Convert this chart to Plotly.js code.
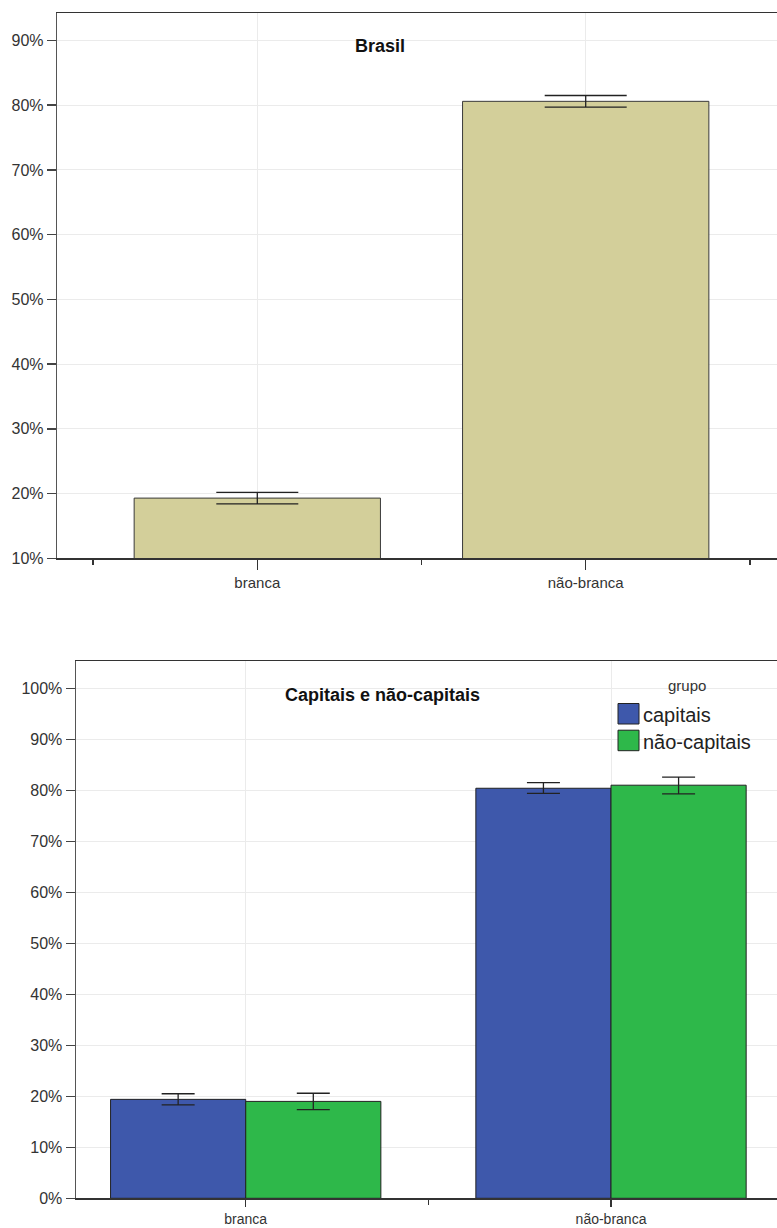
<!DOCTYPE html>
<html>
<head>
<meta charset="utf-8">
<script src="https://cdn.plot.ly/plotly-3.0.1.min.js"></script>
<style>html,body{margin:0;padding:0;background:#fff;}</style>
</head>
<body>
<div id="chart" style="width:777px;height:1228px;"></div>
<script>
// ---- data ----
const categories = ["branca", "não-branca"];
const catPos = [0, 1];

const brasilTitle = "Brasil";
const brasilValues = [19.3, 80.6];
const brasilErr = [0.9, 0.9];

const groupTitle = "Capitais e não-capitais";
const legendTitle = "grupo";
const groupNames = ["capitais", "não-capitais"];
const capitaisValues = [19.4, 80.4];
const capitaisErrPlus = [1.1, 1.1];
const capitaisErrMinus = [1.1, 1.0];
const naoCapitaisValues = [19.0, 81.0];
const naoCapitaisErrPlus = [1.6, 1.6];
const naoCapitaisErrMinus = [1.6, 1.7];

const topTicks = [10, 20, 30, 40, 50, 60, 70, 80, 90];
const bottomTicks = [0, 10, 20, 30, 40, 50, 60, 70, 80, 90, 100];
const tickText = v => v + "%";

// ---- styling ----
const FONT = "Liberation Sans, Arial, sans-serif";
const H = 1228, W = 777;
const py = p => 1 - p / H;
const px = p => p / W;

const colors = {brasil: "#d3cf9a", capitais: "#3e58ab", naoCapitais: "#2eb84a"};

const traces = [
  {
    type: "bar", x: catPos, y: brasilValues, width: 0.75,
    xaxis: "x", yaxis: "y",
    marker: {color: colors.brasil, line: {color: "#3a3a3a", width: 1}},
    error_y: {type: "data", array: brasilErr, color: "#222", thickness: 1.3, width: 41},
    showlegend: false, hoverinfo: "skip"
  },
  {
    type: "bar", name: groupNames[0], x: catPos, y: capitaisValues,
    xaxis: "x2", yaxis: "y2",
    marker: {color: colors.capitais, line: {color: "#222", width: 1}},
    error_y: {type: "data", symmetric: false, array: capitaisErrPlus, arrayminus: capitaisErrMinus, color: "#222", thickness: 1.3, width: 16.5},
    showlegend: false, hoverinfo: "skip"
  },
  {
    type: "bar", name: groupNames[1], x: catPos, y: naoCapitaisValues,
    xaxis: "x2", yaxis: "y2",
    marker: {color: colors.naoCapitais, line: {color: "#222", width: 1}},
    error_y: {type: "data", symmetric: false, array: naoCapitaisErrPlus, arrayminus: naoCapitaisErrMinus, color: "#222", thickness: 1.3, width: 16.5},
    showlegend: false, hoverinfo: "skip"
  }
];

function xAxis(domain, range, anchor, ticklen, fontSize) {
  return {
    domain: domain, range: range, anchor: anchor,
    tickmode: "array", tickvals: catPos, ticktext: categories,
    ticks: "outside", ticklen: ticklen, tickwidth: 1.3, tickcolor: "#333",
    minor: {tickmode: "array", tickvals: [-0.5, 0.5, 1.5], ticks: "outside", ticklen: 5, tickwidth: 1.3, tickcolor: "#333", showgrid: false},
    showline: true, linecolor: "#333", linewidth: 1.5, mirror: true,
    showgrid: true, gridcolor: "#ebebeb", gridwidth: 1,
    zeroline: false, automargin: false, fixedrange: true,
    tickfont: {family: FONT, size: fontSize, color: "#333"}
  };
}
function yAxis(domain, range, ticks, anchor) {
  return {
    domain: domain, range: range, anchor: anchor,
    tickmode: "array", tickvals: ticks, ticktext: ticks.map(tickText),
    ticks: "outside", ticklen: 9, tickwidth: 1.5, tickcolor: "#444",
    showline: true, linecolor: "#555", linewidth: 1.5,
    showgrid: true, gridcolor: "#ebebeb", gridwidth: 1,
    zeroline: false, automargin: false, fixedrange: true,
    tickfont: {family: FONT, size: 16, color: "#333"}
  };
}

const legendShapes = [];
const legendAnnots = [];
const legendColors = [colors.capitais, colors.naoCapitais];
groupNames.forEach((name, i) => {
  const top = 703.5 + i * 26.7;
  legendShapes.push({
    type: "rect", xref: "paper", yref: "paper",
    x0: px(618), x1: px(639), y0: py(top + 20.5), y1: py(top),
    fillcolor: legendColors[i], line: {color: "#222", width: 1}
  });
  legendAnnots.push({
    xref: "paper", yref: "paper", x: px(640.5), y: py(top + 11.5),
    xanchor: "left", yanchor: "middle", showarrow: false,
    text: name, font: {family: FONT, size: 20, color: "#222"}
  });
});

const layout = {
  width: W, height: H,
  margin: {l: 0, r: 0, t: 0, b: 0},
  paper_bgcolor: "#fff", plot_bgcolor: "#fff",
  barmode: "group", bargap: 0.26, bargroupgap: 0,
  showlegend: false,
  xaxis: xAxis([px(57.3), 1], [-0.609, 1.5825], "y", 10, 15),
  yaxis: yAxis([py(558.3), py(13.3)], [10, 94.2], topTicks, "x"),
  xaxis2: xAxis([px(76), 1], [-0.4646, 1.4544], "y2", 7, 14),
  yaxis2: yAxis([py(1198.3), py(661)], [0, 105.35], bottomTicks, "x2"),
  shapes: legendShapes,
  annotations: [
    {xref: "paper", yref: "paper", x: px(379.5), y: py(46), xanchor: "center", yanchor: "middle",
     showarrow: false, text: "<b>" + brasilTitle + "</b>", font: {family: FONT, size: 18, color: "#111"}},
    {xref: "paper", yref: "paper", x: px(382.5), y: py(695), xanchor: "center", yanchor: "middle",
     showarrow: false, text: "<b>" + groupTitle + "</b>", font: {family: FONT, size: 18, color: "#111"}},
    {xref: "paper", yref: "paper", x: px(686.5), y: py(685), xanchor: "center", yanchor: "middle",
     showarrow: false, text: legendTitle, font: {family: FONT, size: 15, color: "#333"}}
  ].concat(legendAnnots)
};

Plotly.newPlot("chart", traces, layout, {staticPlot: true, displayModeBar: false});
</script>
</body>
</html>
